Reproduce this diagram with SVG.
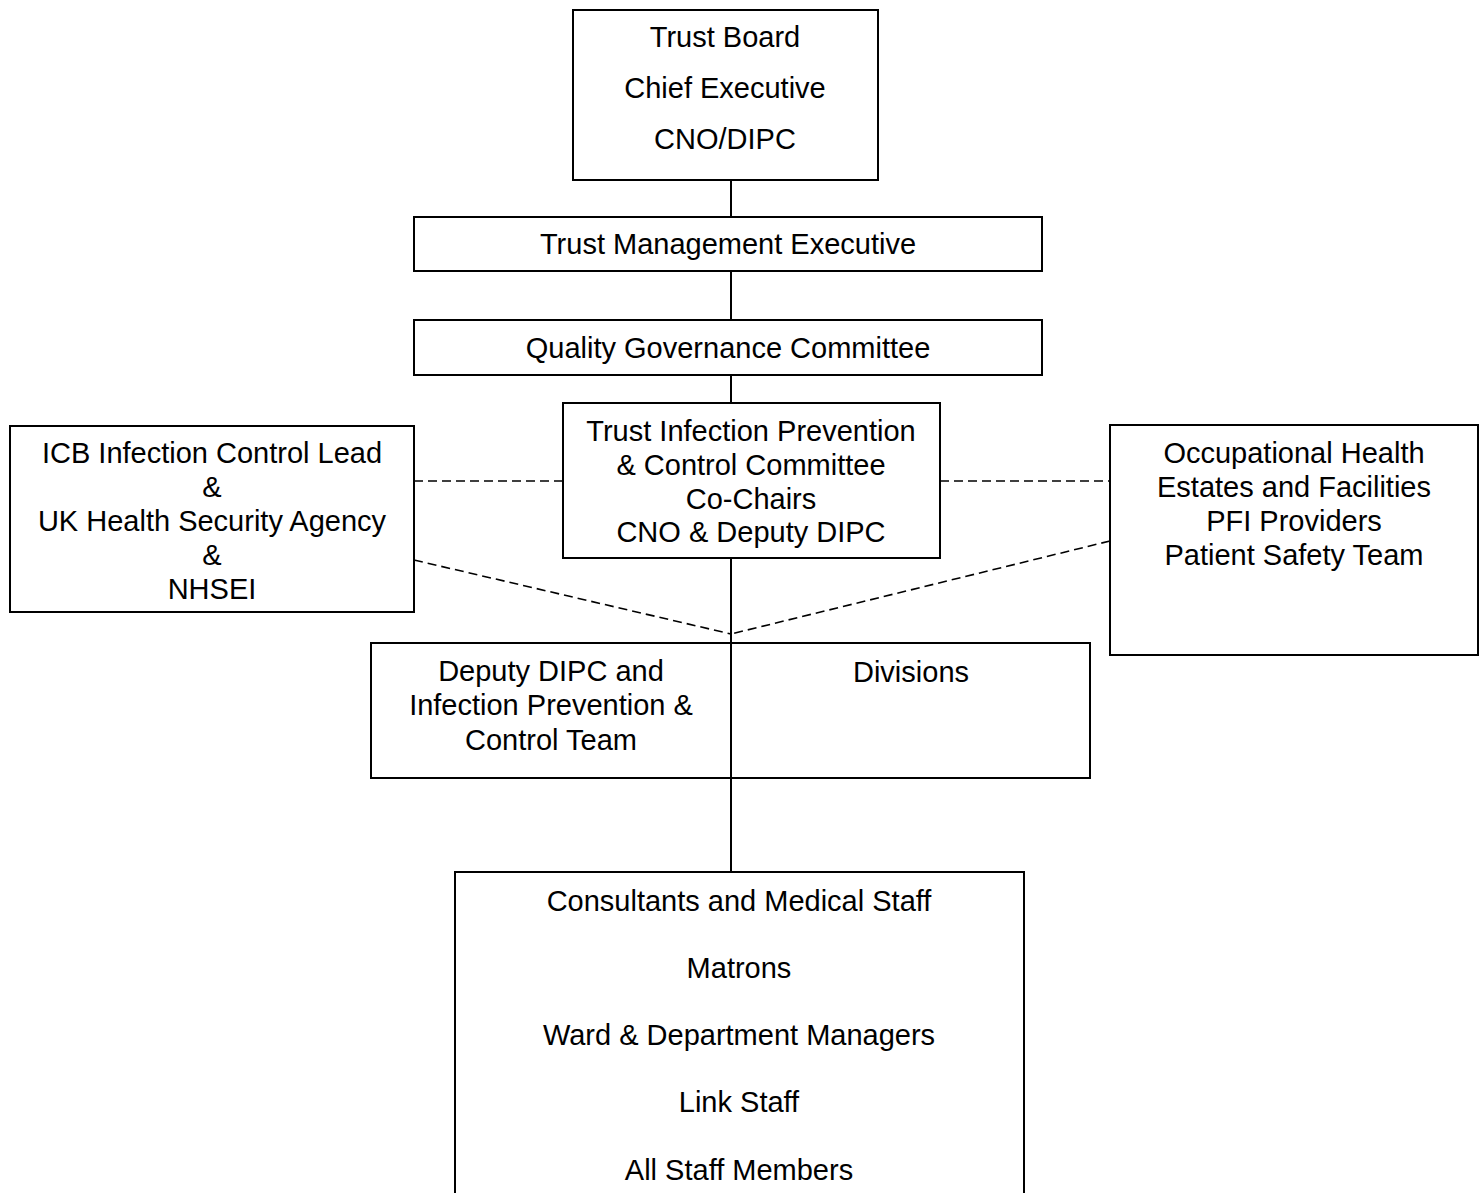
<svg xmlns="http://www.w3.org/2000/svg" width="1483" height="1193" viewBox="0 0 1483 1193">
<style>
.box{fill:#fff;stroke:#000;stroke-width:2}
.t{font-family:"Liberation Sans",Arial,sans-serif;font-size:29px;fill:#000;text-anchor:middle}
.solid{stroke:#000;stroke-width:2;fill:none}
.dash{stroke:#000;stroke-width:1.6;fill:none;stroke-dasharray:9,5}
</style>
<rect width="1483" height="1193" fill="#fff"/>
<g id="connectors">
<line class="solid" x1="731" y1="180" x2="731" y2="217"/>
<line class="solid" x1="731" y1="271" x2="731" y2="320"/>
<line class="solid" x1="731" y1="375" x2="731" y2="403"/>
<line class="solid" x1="731" y1="558" x2="731" y2="872"/>
<line class="dash" x1="414" y1="481" x2="563" y2="481"/>
<line class="dash" x1="940" y1="481" x2="1110" y2="481"/>
<line class="dash" x1="414" y1="560" x2="731" y2="634"/>
<line class="dash" x1="1110" y1="541" x2="731" y2="634"/>
</g>
<g id="trust-board">
<rect class="box" x="573" y="10" width="305" height="170"/>
<text class="t" x="725" y="47">Trust Board</text>
<text class="t" x="725" y="98">Chief Executive</text>
<text class="t" x="725" y="149">CNO/DIPC</text>
</g>
<g id="tme">
<rect class="box" x="414" y="217" width="628" height="54"/>
<text class="t" x="728" y="254">Trust Management Executive</text>
</g>
<g id="qgc">
<rect class="box" x="414" y="320" width="628" height="55"/>
<text class="t" x="728" y="358">Quality Governance Committee</text>
</g>
<g id="ipcc">
<rect class="box" x="563" y="403" width="377" height="155"/>
<text class="t" x="751" y="441">Trust Infection Prevention</text>
<text class="t" x="751" y="475">&amp; Control Committee</text>
<text class="t" x="751" y="509">Co-Chairs</text>
<text class="t" x="751" y="542">CNO &amp; Deputy DIPC</text>
</g>
<g id="icb">
<rect class="box" x="10" y="426" width="404" height="186"/>
<text class="t" x="212" y="463">ICB Infection Control Lead</text>
<text class="t" x="212" y="497">&amp;</text>
<text class="t" x="212" y="531">UK Health Security Agency</text>
<text class="t" x="212" y="565">&amp;</text>
<text class="t" x="212" y="599">NHSEI</text>
</g>
<g id="occ">
<rect class="box" x="1110" y="425" width="368" height="230"/>
<text class="t" x="1294" y="463">Occupational Health</text>
<text class="t" x="1294" y="497">Estates and Facilities</text>
<text class="t" x="1294" y="531">PFI Providers</text>
<text class="t" x="1294" y="565">Patient Safety Team</text>
</g>
<g id="deputy-divisions">
<rect class="box" x="371" y="643" width="719" height="135"/>
<line class="solid" x1="731" y1="643" x2="731" y2="778"/>
<text class="t" x="551" y="681">Deputy DIPC and</text>
<text class="t" x="551" y="715">Infection Prevention &amp;</text>
<text class="t" x="551" y="750">Control Team</text>
<text class="t" x="911" y="682">Divisions</text>
</g>
<g id="staff">
<rect class="box" x="455" y="872" width="569" height="330"/>
<text class="t" x="739" y="911">Consultants and Medical Staff</text>
<text class="t" x="739" y="978">Matrons</text>
<text class="t" x="739" y="1045">Ward &amp; Department Managers</text>
<text class="t" x="739" y="1112">Link Staff</text>
<text class="t" x="739" y="1180">All Staff Members</text>
</g>
</svg>
